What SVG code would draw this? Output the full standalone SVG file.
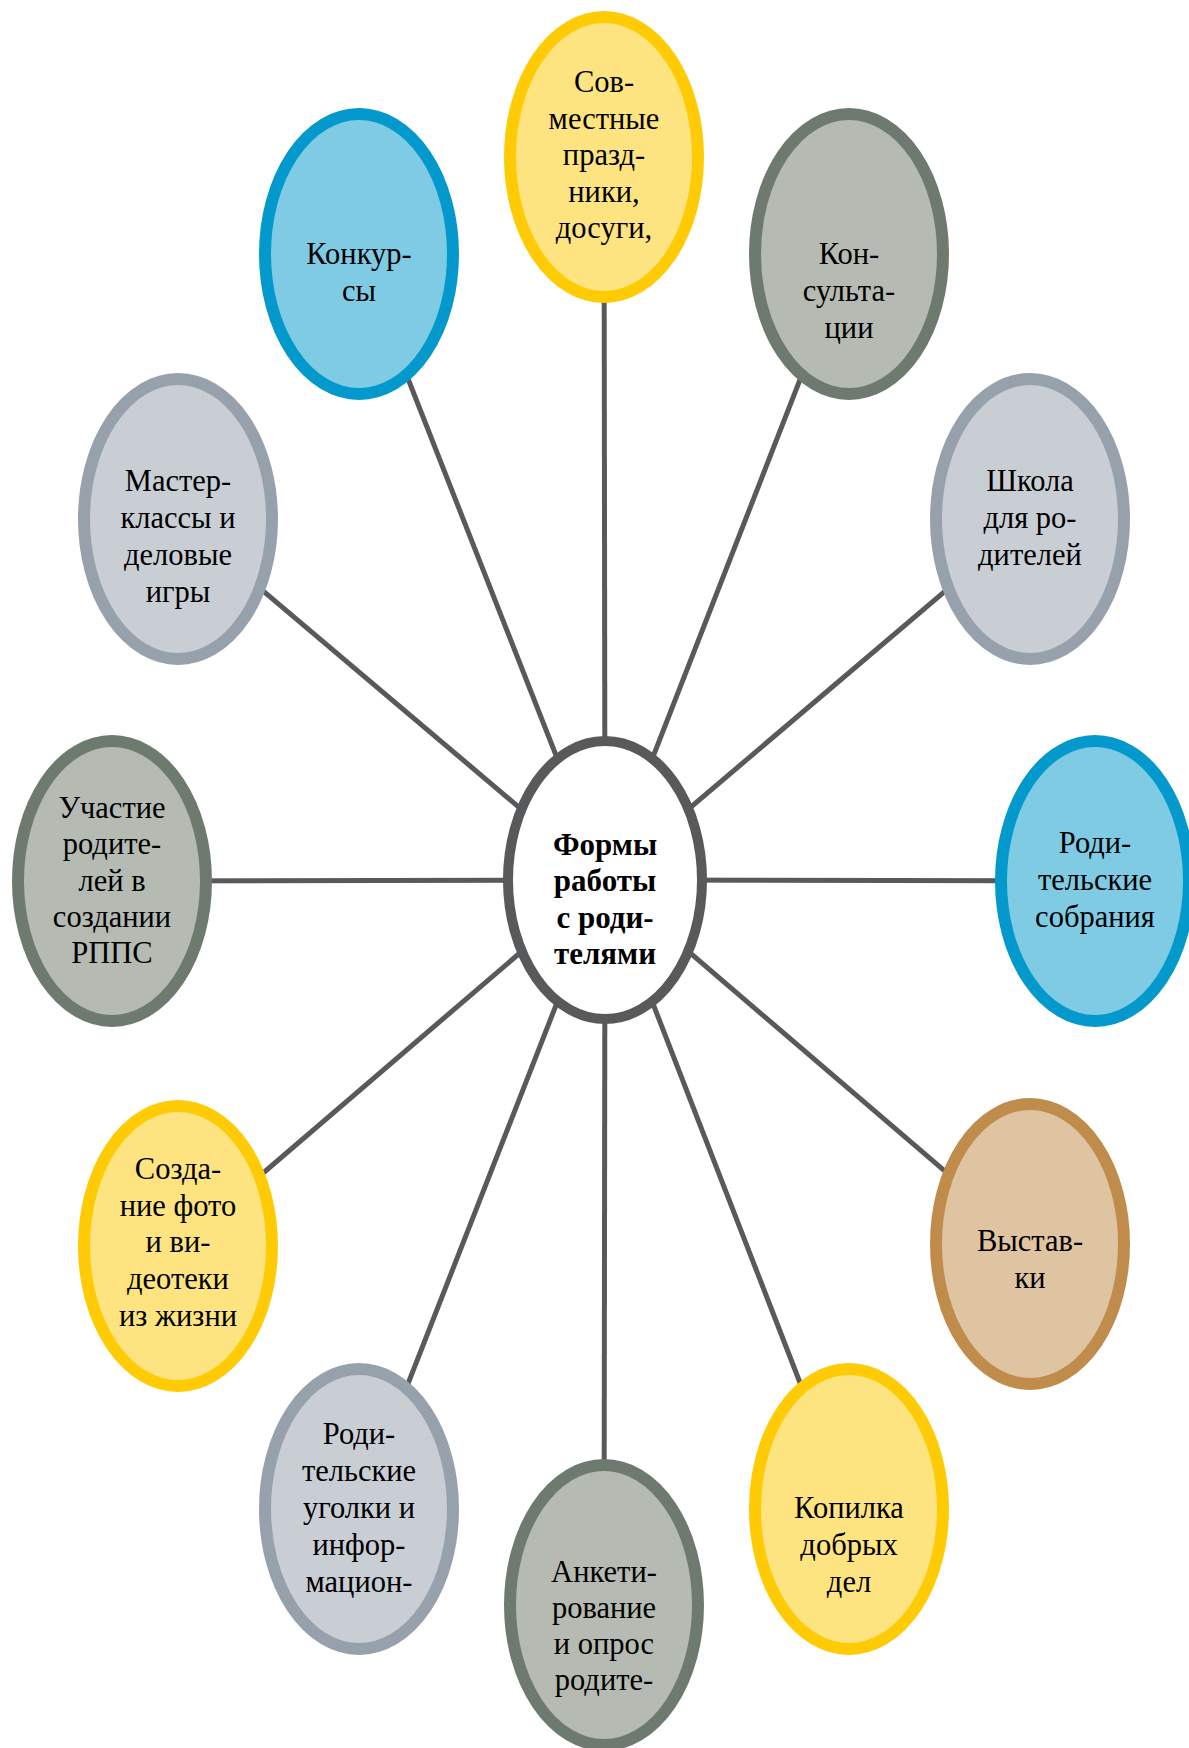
<svg xmlns="http://www.w3.org/2000/svg" width="1189" height="1748" viewBox="0 0 1189 1748">
<style>
.n{stroke-width:12}
.y{fill:#FDE480;stroke:#FFCB05}
.b{fill:#7FCBE4;stroke:#0399CC}
.g{fill:#B5BAB3;stroke:#6E7A6F}
.l{fill:#C9CDD4;stroke:#97A1AB}
.t{fill:#DFC4A2;stroke:#BF8C4B}
.c{fill:#FFFFFF;stroke:#58595B;stroke-width:10}
text{font-family:"Liberation Serif","Times New Roman",serif;font-size:30.5px;fill:#000;text-anchor:middle}
.bold{font-weight:bold;font-size:31px}
.conn line{stroke:#58595B;stroke-width:5}
</style>
<rect width="1189" height="1748" fill="#FFFFFF"/>
<g id="connectors" class="conn">
<line x1="605" y1="880" x2="604" y2="157"/>
<line x1="605" y1="880" x2="849" y2="254"/>
<line x1="605" y1="880" x2="1030" y2="519"/>
<line x1="605" y1="880" x2="1095" y2="881"/>
<line x1="605" y1="880" x2="1030" y2="1244"/>
<line x1="605" y1="880" x2="849" y2="1509"/>
<line x1="605" y1="880" x2="604" y2="1605"/>
<line x1="605" y1="880" x2="359" y2="1509"/>
<line x1="605" y1="880" x2="178" y2="1246"/>
<line x1="605" y1="880" x2="112" y2="881"/>
<line x1="605" y1="880" x2="178" y2="519"/>
<line x1="605" y1="880" x2="359" y2="254"/>
</g>
<g id="center">
<ellipse class="c" cx="605" cy="880" rx="97" ry="139"/>
<text class="bold" x="605" y="855">Формы</text>
<text class="bold" x="605" y="891">работы</text>
<text class="bold" x="605" y="928">с роди-</text>
<text class="bold" x="605" y="964">телями</text>
</g>
<g id="node-sovmestnye">
<ellipse class="n y" cx="604" cy="157" rx="94" ry="140"/>
<text x="604" y="92">Сов-</text>
<text x="604" y="129">местные</text>
<text x="604" y="165">празд-</text>
<text x="604" y="202">ники,</text>
<text x="604" y="238">досуги,</text>
</g>
<g id="node-konsultacii">
<ellipse class="n g" cx="849" cy="254" rx="94" ry="140"/>
<text x="849" y="264">Кон-</text>
<text x="849" y="301">сульта-</text>
<text x="849" y="338">ции</text>
</g>
<g id="node-shkola">
<ellipse class="n l" cx="1030" cy="519" rx="94" ry="140"/>
<text x="1030" y="491">Школа</text>
<text x="1030" y="528">для ро-</text>
<text x="1030" y="565">дителей</text>
</g>
<g id="node-sobraniya">
<ellipse class="n b" cx="1095" cy="881" rx="94" ry="140"/>
<text x="1095" y="853">Роди-</text>
<text x="1095" y="890">тельские</text>
<text x="1095" y="927">собрания</text>
</g>
<g id="node-vystavki">
<ellipse class="n t" cx="1030" cy="1244" rx="94" ry="140"/>
<text x="1030" y="1251">Выстав-</text>
<text x="1030" y="1288">ки</text>
</g>
<g id="node-kopilka">
<ellipse class="n y" cx="849" cy="1509" rx="94" ry="140"/>
<text x="849" y="1518">Копилка</text>
<text x="849" y="1555">добрых</text>
<text x="849" y="1592">дел</text>
</g>
<g id="node-anketirovanie">
<ellipse class="n g" cx="604" cy="1605" rx="94" ry="140"/>
<text x="604" y="1582">Анкети-</text>
<text x="604" y="1618">рование</text>
<text x="604" y="1654">и опрос</text>
<text x="604" y="1690">родите-</text>
</g>
<g id="node-ugolki">
<ellipse class="n l" cx="359" cy="1509" rx="94" ry="140"/>
<text x="359" y="1444">Роди-</text>
<text x="359" y="1481">тельские</text>
<text x="359" y="1518">уголки и</text>
<text x="359" y="1555">инфор-</text>
<text x="359" y="1592">мацион-</text>
</g>
<g id="node-sozdanie">
<ellipse class="n y" cx="178" cy="1246" rx="94" ry="140"/>
<text x="178" y="1179">Созда-</text>
<text x="178" y="1216">ние фото</text>
<text x="178" y="1252">и ви-</text>
<text x="178" y="1289">деотеки</text>
<text x="178" y="1326">из жизни</text>
</g>
<g id="node-uchastie">
<ellipse class="n g" cx="112" cy="881" rx="94" ry="140"/>
<text x="112" y="818">Участие</text>
<text x="112" y="854">родите-</text>
<text x="112" y="891">лей в</text>
<text x="112" y="927">создании</text>
<text x="112" y="963">РППС</text>
</g>
<g id="node-master">
<ellipse class="n l" cx="178" cy="519" rx="94" ry="140"/>
<text x="178" y="491">Мастер-</text>
<text x="178" y="528">классы и</text>
<text x="178" y="565">деловые</text>
<text x="178" y="602">игры</text>
</g>
<g id="node-konkursy">
<ellipse class="n b" cx="359" cy="254" rx="94" ry="140"/>
<text x="359" y="264">Конкур-</text>
<text x="359" y="301">сы</text>
</g>
</svg>
